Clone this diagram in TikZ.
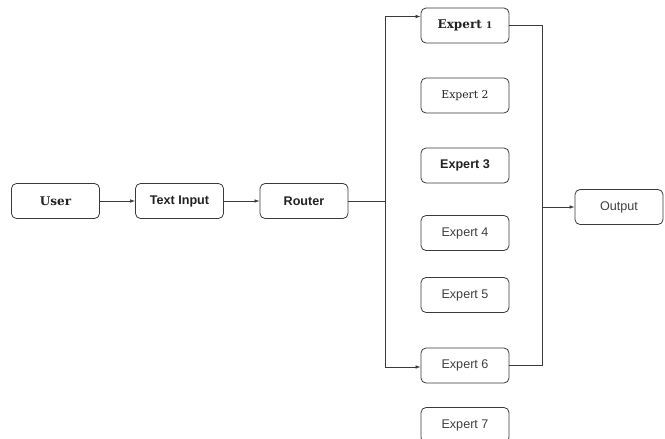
\documentclass[tikz,border=0pt]{standalone}
\usepackage{fontspec}
\newfontfamily\sansf{Liberation Sans}
\newfontfamily\seriff{DejaVu Serif}
\usetikzlibrary{arrows.meta}
\definecolor{edge}{HTML}{3A3A3A}
\definecolor{txt}{HTML}{222222}
\definecolor{txtl}{HTML}{404040}
\begin{document}
\begin{tikzpicture}[x=1pt,y=-1pt,
  box/.style={draw=edge, line width=0.8pt, rounded corners=5pt, minimum width=88pt, minimum height=35pt, inner sep=0pt, fill=white},
  serifb/.style={font=\seriff\fontsize{12}{14}\selectfont\bfseries, text=txt},
  serifr/.style={font=\seriff\fontsize{10.8}{12}\selectfont, text=txt},
  sansb/.style={font=\sansf\fontsize{12.6}{14}\selectfont\bfseries, text=txt},
  sansr/.style={font=\sansf\fontsize{12.6}{14}\selectfont, text=txtl},
  conn/.style={draw=edge, line width=0.6pt},
  arr/.style={conn, -{Latex[length=5pt,width=3.5pt]}}
]
\useasboundingbox (0,0) rectangle (665,439);
\clip (0,0) rectangle (665,439);
\node[box, serifb] (user) at (55.5,201) {User};
\node[box, sansb] (text) at (179.5,201) {Text Input};
\node[box, sansb] (router) at (304,201) {Router};
\node[box, serifb] (e1) at (465,25.5) {Expert {\fontsize{9}{10}\selectfont 1}};
\node[box, serifr] (e2) at (465,95.5) {Expert 2};
\node[box, sansb] (e3) at (465,165.5) {Expert 3};
\node[box, sansr] (e4) at (465,233) {Expert 4};
\node[box, sansr] (e5) at (465,295) {Expert 5};
\node[box, sansr] (e6) at (465,365.5) {Expert 6};
\node[box, sansr] (e7) at (465,425) {Expert 7};
\node[box, sansr] (out) at (619,207) {Output};

\coordinate (split) at (385,201);
\coordinate (merge) at (542,207);

\draw[arr] (user) -- (text);
\draw[arr] (text) -- (router);
\draw[conn] (router) -- (split);
\draw[arr] (split) |- ([yshift=9pt]e1.west);
\draw[arr] (split) |- ([yshift=-1.5pt]e6.west);
\draw[conn] (e1.east) -| (merge);
\draw[conn] (e6.east) -| (merge);
\draw[arr] (merge) -- (out);
\end{tikzpicture}
\end{document}
